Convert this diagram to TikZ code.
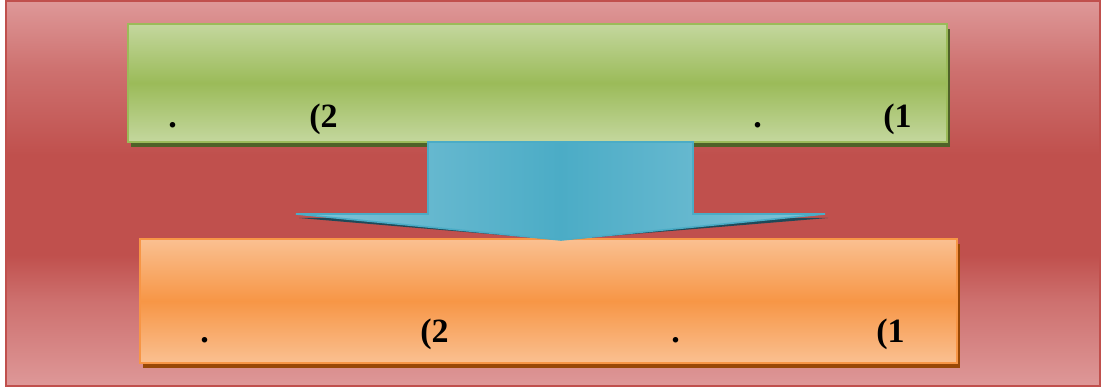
\documentclass[tikz,border=0pt]{standalone}
\usepackage{fontspec}
\setmainfont{Liberation Serif}
\usepackage{tikz}
\usetikzlibrary{shadows, calc, positioning}
\definecolor{bgdeep}{RGB}{192, 80, 77}
\definecolor{bglight}{RGB}{222, 152, 152}
\definecolor{greenmid}{RGB}{155, 187, 89}
\definecolor{greenlight}{RGB}{196, 215, 158}
\definecolor{greendark}{RGB}{79, 98, 40}
\definecolor{orangemid}{RGB}{247, 150, 70}
\definecolor{orangelight}{RGB}{250, 192, 145}
\definecolor{orangedark}{RGB}{152, 72, 7}
\definecolor{bluemid}{RGB}{75, 172, 198}
\definecolor{bluelight}{RGB}{128, 196, 216}
\definecolor{bluedark}{RGB}{31, 73, 88}
\pgfdeclareverticalshading{bgband}{100bp}{color(0bp)=(bglight); color(25bp)=(bglight); color(36bp)=(bglight!45!bgdeep); color(42bp)=(bgdeep); color(55bp)=(bgdeep); color(66bp)=(bglight!45!bgdeep); color(75bp)=(bglight); color(100bp)=(bglight)}

\begin{document}
\begin{tikzpicture}[
    x=0.5pt, y=-0.5pt,
    backdrop/.style={draw=bgdeep, line width=1pt, shading=bgband},
    panel/.style={rectangle, line width=1.2pt, inner sep=0pt},
    greenpanel/.style={panel, draw=greenmid, top color=greenlight, bottom color=greenlight, middle color=greenmid,
        minimum width=409.5pt, minimum height=59pt,
        drop shadow={shadow xshift=1.5pt, shadow yshift=-2.5pt, fill=greendark, opacity=1}},
    orangepanel/.style={panel, draw=orangemid, top color=orangelight, bottom color=orangelight, middle color=orangemid,
        minimum width=408.5pt, minimum height=62pt,
        drop shadow={shadow xshift=1.5pt, shadow yshift=-2.5pt, fill=orangedark, opacity=1}},
    blockarrow/.style={draw=bluemid, line width=0.8pt, left color=bluelight, right color=bluelight, middle color=bluemid},
    lbl/.style={font=\fontsize{17}{20}\selectfont\bfseries, inner sep=0pt, anchor=base west}
]
    \useasboundingbox (0,0) rectangle (1102,389);
    \fill[white] (0,0) rectangle (1102,389);
    \draw[backdrop] (6,1) rectangle (1100,386);

    % boxes
    \node (upper) [greenpanel] at (537.5,83) {};
    \node (lower) [orangepanel] at (548.5,301) {};

    % wide arrow from upper to lower
    \coordinate (shaftl) at (428,142);
    \coordinate (shaftr) at (693,142);
    \coordinate (tip) at (561,240);
    \fill[bluedark, shift={(3,4)}] (296,214) -- (428,214) -- (693,214) -- (825,214) -- (tip) -- cycle;
    \draw[blockarrow] (shaftl) -- (shaftr) -- (693,214) -- (825,214) -- (tip) -- (296,214) -- (428,214) -- cycle;

    % labels, upper box
    \node (u1) [lbl] at (883,128) {(1};
    \node (u1dot) [lbl] at (753,128) {.};
    \node (u2) [lbl] at (309,128) {(2};
    \node (u2dot) [lbl] at (168,128) {.};

    % labels, lower box
    \node (l1) [lbl] at (876,343) {(1};
    \node (l1dot) [lbl] at (671,343) {.};
    \node (l2) [lbl] at (420,343) {(2};
    \node (l2dot) [lbl] at (200,343) {.};
\end{tikzpicture}
\end{document}
